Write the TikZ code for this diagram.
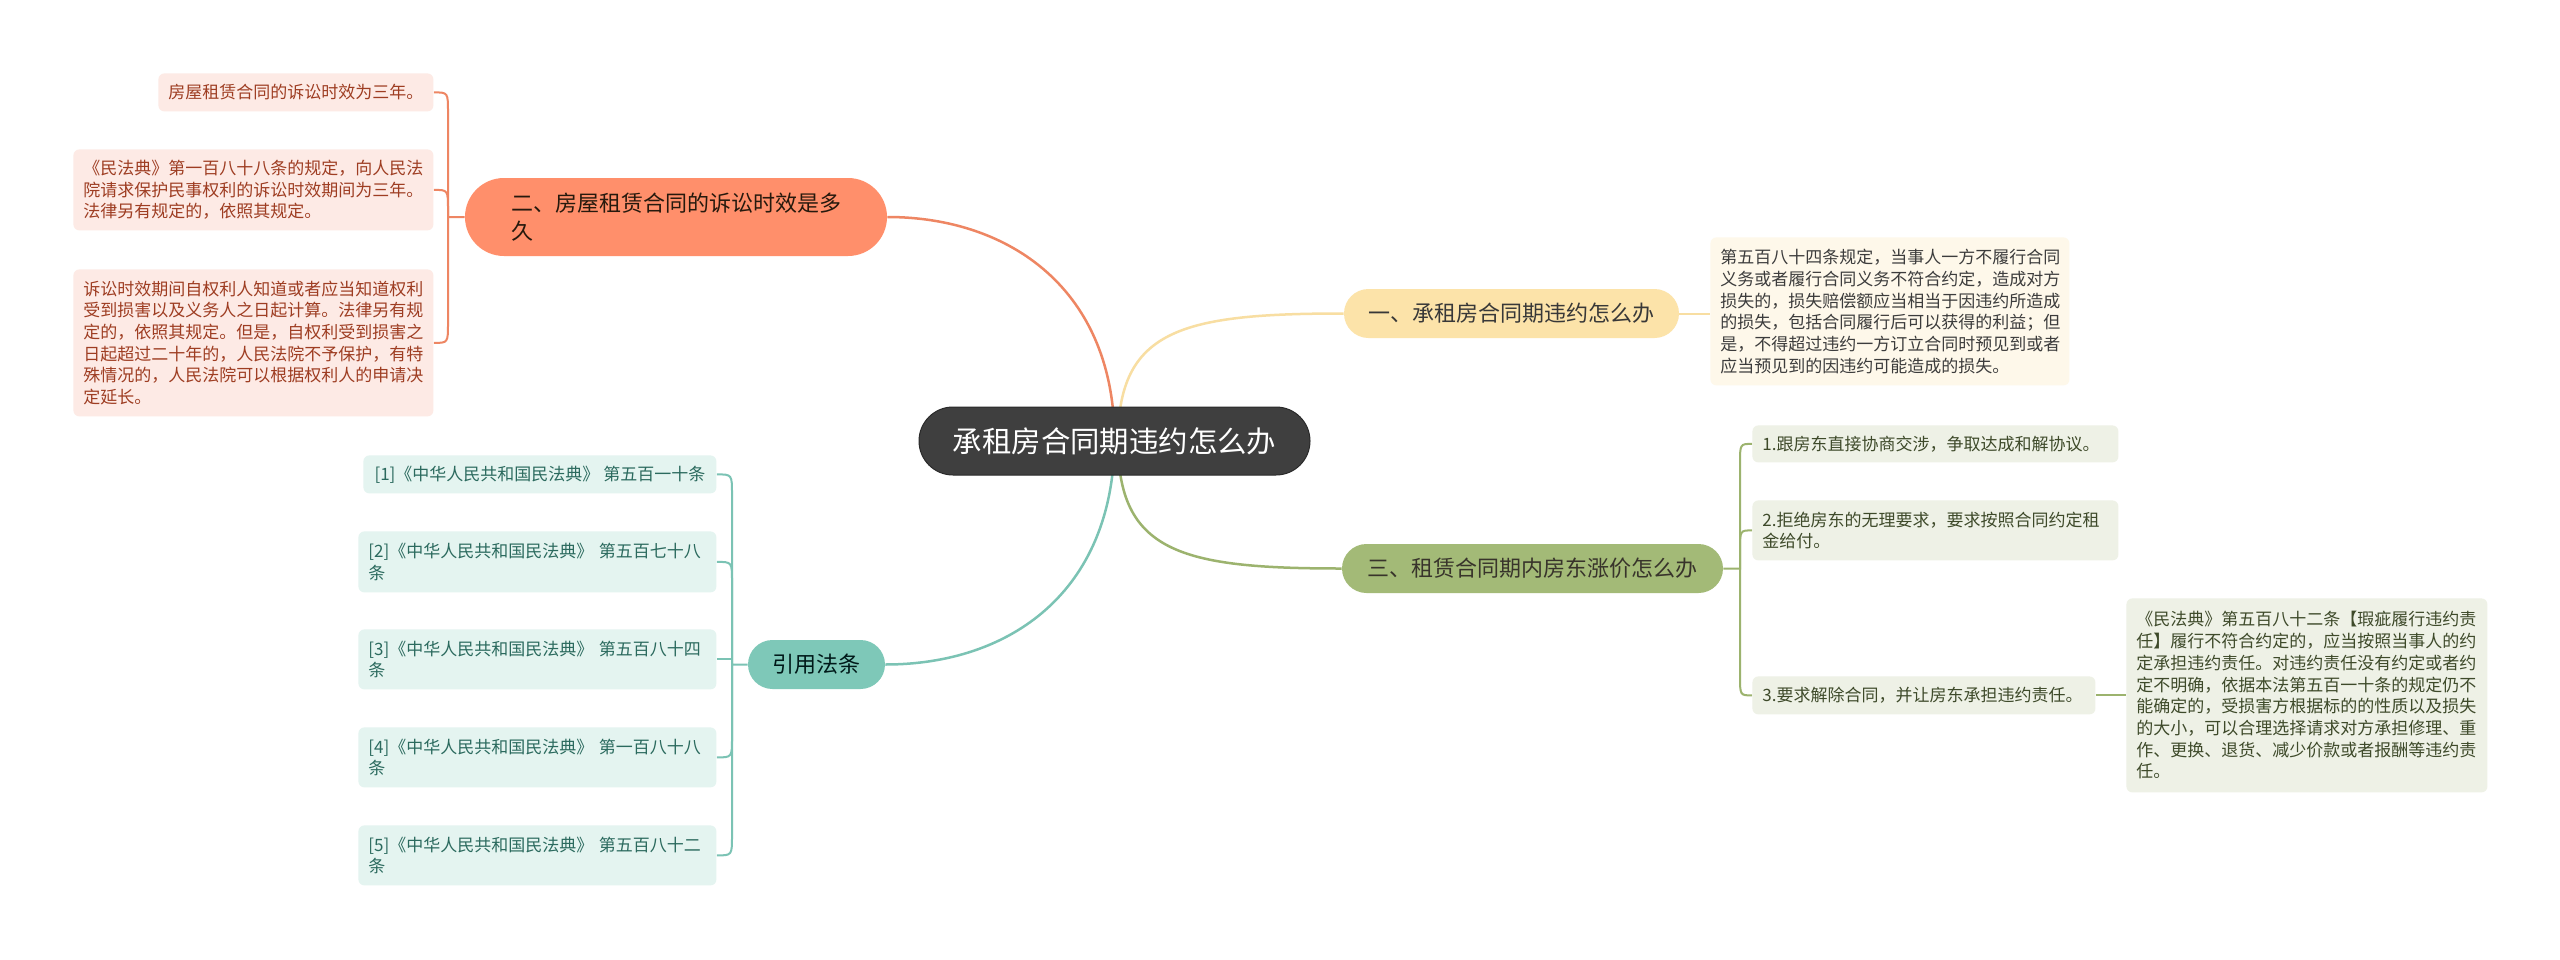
\documentclass[tikz,border=0pt]{standalone}
\usepackage{fontspec}
\setmainfont{Noto Sans CJK SC}
\usetikzlibrary{backgrounds}
\definecolor{salfill}{HTML}{FF8F6B}
\definecolor{salline}{HTML}{EE8663}
\definecolor{yelfill}{HTML}{FCE3A9}
\definecolor{yelline}{HTML}{F8DEA2}
\definecolor{olvfill}{HTML}{A3BA77}
\definecolor{olvline}{HTML}{9CB36E}
\definecolor{tealfill}{HTML}{7EC8B8}
\definecolor{tealline}{HTML}{7BC3B4}
\definecolor{pinkleaf}{HTML}{FDEAE5}
\definecolor{pinktext}{HTML}{9E3D22}
\definecolor{creamleaf}{HTML}{FEF8EA}
\definecolor{creamtext}{HTML}{3C3C3C}
\definecolor{olvleaf}{HTML}{EEF1E6}
\definecolor{olvtext}{HTML}{3E4A2A}
\definecolor{tealleaf}{HTML}{E4F4F0}
\definecolor{tealtext}{HTML}{2B6A5E}
\definecolor{centerfill}{HTML}{3F3F3F}
\definecolor{centerdraw}{HTML}{2A2A2A}
\begin{document}
\begin{tikzpicture}[x=0.5pt,y=-0.5pt,
  leafbase/.style={rounded corners=3pt, inner xsep=5pt, inner ysep=0pt, align=left,
    font=\fontsize{8.5pt}{10.85pt}\selectfont, anchor=north west},
  pinkbox/.style={leafbase, fill=pinkleaf, text=pinktext},
  creambox/.style={leafbase, fill=creamleaf, text=creamtext},
  olvbox/.style={leafbase, fill=olvleaf, text=olvtext},
  tealbox/.style={leafbase, fill=tealleaf, text=tealtext},
  branchbox/.style={rounded corners=12.25pt, minimum height=24.5pt, inner xsep=0pt, inner ysep=0pt,
    font=\fontsize{11pt}{14pt}\selectfont},
  mainline/.style={line width=1.25pt},
  subline/.style={line width=1pt},
]
\useasboundingbox (0,0) rectangle (2560,959);

% center
\node[fill=centerfill, draw=centerdraw, line width=0.5pt, text=white, rounded corners=17pt,
  minimum width=195.5pt, minimum height=34pt, inner sep=0pt,
  font=\fontsize{14.7pt}{18pt}\selectfont] (c) at (1114.5,441) {承租房合同期违约怎么办};

% branch 2 (top left)
\node[fill=salfill, text=black!80!brown, rounded corners=19.5pt, minimum height=39pt,
  text width=165pt, inner xsep=23pt, inner ysep=0pt, align=left,
  font=\fontsize{11pt}{14pt}\selectfont] (b2) at (676,217) {二、房屋租赁合同的诉讼时效是多\\久};
\node[pinkbox, minimum width=137.5pt, minimum height=19pt, align=center] (ba) at (158,73) {房屋租赁合同的诉讼时效为三年。};
\node[pinkbox, text width=170pt, minimum height=40.5pt] (bb) at (73,149)
  {《民法典》第一百八十八条的规定，向人民法\\院请求保护民事权利的诉讼时效期间为三年。\\法律另有规定的，依照其规定。};
\node[pinkbox, text width=170pt, minimum height=73.5pt] (bc) at (73,269)
  {诉讼时效期间自权利人知道或者应当知道权利\\受到损害以及义务人之日起计算。法律另有规\\定的，依照其规定。但是，自权利受到损害之\\日起超过二十年的，人民法院不予保护，有特\\殊情况的，人民法院可以根据权利人的申请决\\定延长。};

% branch 1 (top right)
\node[branchbox, fill=yelfill, text=black!78, minimum width=167.5pt] (b1) at (1511.5,313.5) {一、承租房合同期违约怎么办};
\node[creambox, text width=169.5pt, minimum height=74pt] (b1a) at (1710,237)
  {第五百八十四条规定，当事人一方不履行合同\\义务或者履行合同义务不符合约定，造成对方\\损失的，损失赔偿额应当相当于因违约所造成\\的损失，包括合同履行后可以获得的利益；但\\是，不得超过违约一方订立合同时预见到或者\\应当预见到的因违约可能造成的损失。};

% branch 3 (bottom right)
\node[branchbox, fill=olvfill, text=black!80!olive, minimum width=190.5pt] (b3) at (1532.5,568.5) {三、租赁合同期内房东涨价怎么办};
\node[olvbox, text width=173pt, minimum height=18.5pt] (k1) at (1752,425) {1.跟房东直接协商交涉，争取达成和解协议。};
\node[olvbox, text width=173pt, minimum height=30pt] (k2) at (1752,500) {2.拒绝房东的无理要求，要求按照合同约定租\\金给付。};
\node[olvbox, text width=161.5pt, minimum height=19pt] (k3) at (1752,676) {3.要求解除合同，并让房东承担违约责任。};
\node[olvbox, text width=170.5pt, minimum height=97pt] (k3a) at (2126,598)
  {《民法典》第五百八十二条【瑕疵履行违约责\\任】履行不符合约定的，应当按照当事人的约\\定承担违约责任。对违约责任没有约定或者约\\定不明确，依据本法第五百一十条的规定仍不\\能确定的，受损害方根据标的的性质以及损失\\的大小，可以合理选择请求对方承担修理、重\\作、更换、退货、减少价款或者报酬等违约责\\任。};

% references (bottom left)
\node[branchbox, fill=tealfill, text=black!80!teal, minimum width=68.5pt] (yf) at (816.5,664.5) {引用法条};
\node[tealbox, minimum width=176.5pt, minimum height=19pt, align=center] (r1) at (363,455) {[1]《中华人民共和国民法典》 第五百一十条};
\node[tealbox, text width=169pt, minimum height=30.5pt] (r2) at (358,531) {[2]《中华人民共和国民法典》 第五百七十八\\条};
\node[tealbox, text width=169pt, minimum height=30pt] (r3) at (358,629) {[3]《中华人民共和国民法典》 第五百八十四\\条};
\node[tealbox, text width=169pt, minimum height=30pt] (r4) at (358,727) {[4]《中华人民共和国民法典》 第一百八十八\\条};
\node[tealbox, text width=169pt, minimum height=30pt] (r5) at (358,825) {[5]《中华人民共和国民法典》 第五百八十二\\条};

\coordinate (j2) at (448,217);
\coordinate (j3) at (1740,568.5);
\coordinate (jr) at (732,664.5);

\begin{scope}[on background layer]
\fill[white] (0,0) rectangle (2560,959);
% main connectors
\draw[mainline, salline] (c.center) .. controls (1115,290) and (1010,217) .. (b2.east);
\draw[mainline, yelline] (1118,441) .. controls (1118,330) and (1180,313.5) .. (b1.west);
\draw[mainline, olvline] (1118,441) .. controls (1118,552) and (1180,568.5) .. (b3.west);
\draw[mainline, tealline] (c.center) .. controls (1113,592) and (1010,664.5) .. (yf.east);
% branch 2 children
\draw[subline, salline] (ba.east) .. controls (j2 |- ba.east) .. ([yshift=-10pt]j2 |- ba.east) -- (j2) -- (b2.west);
\draw[subline, salline] (bb.east) .. controls (j2 |- bb.east) .. ([yshift=-10pt]j2 |- bb.east) -- (j2);
\draw[subline, salline] (bc.east) .. controls (j2 |- bc.east) .. ([yshift=10pt]j2 |- bc.east) -- (j2);
% branch 1 child
\draw[subline, yelline] (b1.east) -- (b1a.west |- b1.east);
% branch 3 children
\draw[subline, olvline] (b3.east) -- (j3) -- ([yshift=-10pt]j3 |- k1.west) .. controls (j3 |- k1.west) .. (k1.west);
\draw[subline, olvline] (j3) -- ([yshift=-10pt]j3 |- k2.west) .. controls (j3 |- k2.west) .. (k2.west);
\draw[subline, olvline] (j3) -- ([yshift=10pt]j3 |- k3.west) .. controls (j3 |- k3.west) .. (k3.west);
\draw[subline, olvline] (k3.east) -- (k3a.west |- k3.east);
% references
\draw[subline, tealline] (r1.east) .. controls (jr |- r1.east) .. ([yshift=-10pt]jr |- r1.east) -- (jr) -- (yf.west);
\draw[subline, tealline] (r2.east) .. controls (jr |- r2.east) .. ([yshift=-10pt]jr |- r2.east) -- (jr);
\draw[subline, tealline] (r3.east) -- (jr |- r3.east) -- (jr);
\draw[subline, tealline] (r4.east) .. controls (jr |- r4.east) .. ([yshift=10pt]jr |- r4.east) -- (jr);
\draw[subline, tealline] (r5.east) .. controls (jr |- r5.east) .. ([yshift=10pt]jr |- r5.east) -- (jr);
\end{scope}
\end{tikzpicture}
\end{document}
